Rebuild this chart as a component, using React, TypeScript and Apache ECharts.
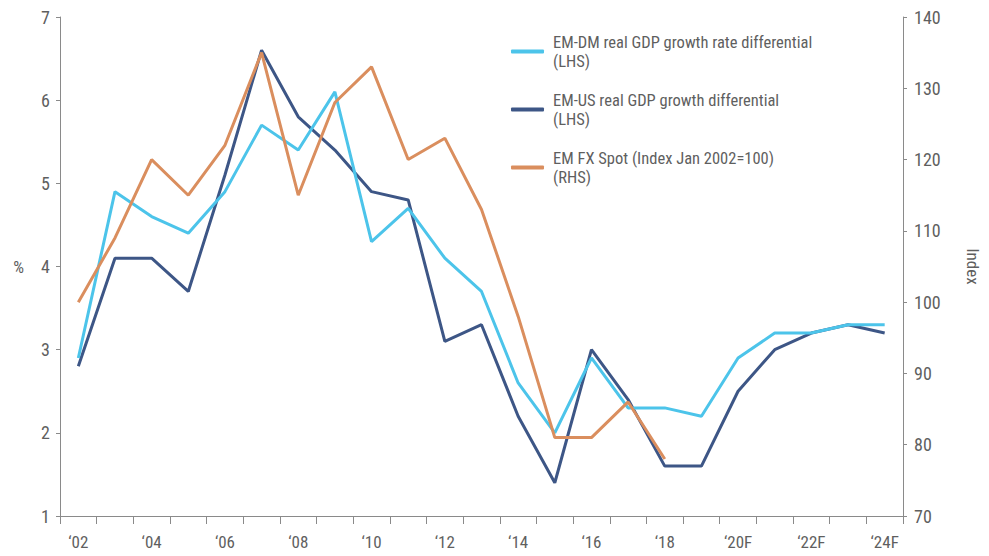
import React, { useEffect, useRef } from "react";
import * as echarts from "echarts";

const years = [
  "‘02", "‘03", "‘04", "‘05", "‘06", "‘07", "‘08", "‘09", "‘10", "‘11", "‘12",
  "‘13", "‘14", "‘15", "‘16", "‘17", "‘18", "‘19", "‘20F", "‘21F", "‘22F", "‘23F", "‘24F",
];
const emDm = [2.9, 4.9, 4.6, 4.4, 4.9, 5.7, 5.4, 6.1, 4.3, 4.7, 4.1, 3.7, 2.6, 2.0, 2.9, 2.3, 2.3, 2.2, 2.9, 3.2, 3.2, 3.3, 3.3];
const emUs = [2.8, 4.1, 4.1, 3.7, 5.1, 6.6, 5.8, 5.4, 4.9, 4.8, 3.1, 3.3, 2.2, 1.4, 3.0, 2.4, 1.6, 1.6, 2.5, 3.0, 3.2, 3.3, 3.2];
const emFx = [100, 109, 120, 115, 122, 135, 115, 128, 133, 120, 123, 113, 98, 81, 81, 86, 78, null, null, null, null, null, null];
const leftTicks = { min: 1, max: 7, interval: 1 };
const rightTicks = { min: 70, max: 140, interval: 10 };
const names = {
  dm: "EM-DM real GDP growth rate differential\n(LHS)",
  us: "EM-US real GDP growth differential\n(LHS)",
  fx: "EM FX Spot (Index Jan 2002=100)\n(RHS)",
};

const FONT = "'Liberation Sans Narrow', 'Roboto Condensed', Roboto, sans-serif";
const AXIS = "#8a8a8a";
const TEXT = "#5f5f5f";

export default function App() {
  const ref = useRef<HTMLDivElement>(null);
  useEffect(() => {
    if (!ref.current) return;
    const chart = echarts.init(ref.current, undefined, { renderer: "svg" });
    chart.setOption({
      animation: false,
      textStyle: { fontFamily: FONT },
      grid: { left: 60, right: 75, top: 17, bottom: 40, containLabel: false },
      legend: {
        data: [names.dm, names.us, names.fx],
        orient: "vertical",
        left: 511,
        top: 23,
        padding: 0,
        itemGap: 1,
        itemWidth: 33,
        itemHeight: 4,
        icon: "roundRect",
        textStyle: {
          fontFamily: FONT,
          fontSize: 16.5,
          color: TEXT,
          lineHeight: 19,
          padding: [19, 0, 0, 4],
        },
      },
      xAxis: {
        type: "category",
        data: years,
        boundaryGap: true,
        axisLine: { lineStyle: { color: AXIS, width: 1 } },
        axisTick: { show: true, interval: 0, length: 8, lineStyle: { color: AXIS } },
        axisLabel: { interval: 1, color: TEXT, fontSize: 17, margin: 17, fontFamily: FONT },
        splitLine: { show: false },
      },
      yAxis: [
        {
          type: "value",
          ...leftTicks,
          position: "left",
          name: "%",
          nameLocation: "middle",
          nameGap: 36,
          nameRotate: 0,
          nameTextStyle: { color: TEXT, fontSize: 17, fontFamily: FONT },
          axisLine: { show: true, lineStyle: { color: AXIS } },
          axisTick: { show: true, length: 4, lineStyle: { color: AXIS } },
          axisLabel: { color: TEXT, fontSize: 18, margin: 10, fontFamily: FONT },
          splitLine: { show: false },
        },
        {
          type: "value",
          ...rightTicks,
          position: "right",
          name: "Index",
          nameLocation: "middle",
          nameGap: 61,
          nameRotate: -90,
          nameTextStyle: { color: TEXT, fontSize: 17, fontFamily: FONT },
          axisLine: { show: true, lineStyle: { color: AXIS } },
          axisTick: { show: true, length: 4, lineStyle: { color: AXIS } },
          axisLabel: { color: TEXT, fontSize: 18, margin: 11, fontFamily: FONT },
          splitLine: { show: false },
        },
      ],
      series: [
        {
          name: names.us,
          type: "line",
          data: emUs,
          yAxisIndex: 0,
          symbol: "none",
          lineStyle: { width: 3, color: "#3d5686" },
          itemStyle: { color: "#3d5686" },
        },
        {
          name: names.dm,
          type: "line",
          data: emDm,
          yAxisIndex: 0,
          symbol: "none",
          lineStyle: { width: 3, color: "#4cc4ea" },
          itemStyle: { color: "#4cc4ea" },
        },
        {
          name: names.fx,
          type: "line",
          data: emFx,
          yAxisIndex: 1,
          symbol: "none",
          connectNulls: false,
          lineStyle: { width: 3, color: "#da8e5e" },
          itemStyle: { color: "#da8e5e" },
        },
      ],
    });
    return () => chart.dispose();
  }, []);
  return <div ref={ref} style={{ width: 989, height: 556, position: "absolute", left: 0, top: 0 }} />;
}
